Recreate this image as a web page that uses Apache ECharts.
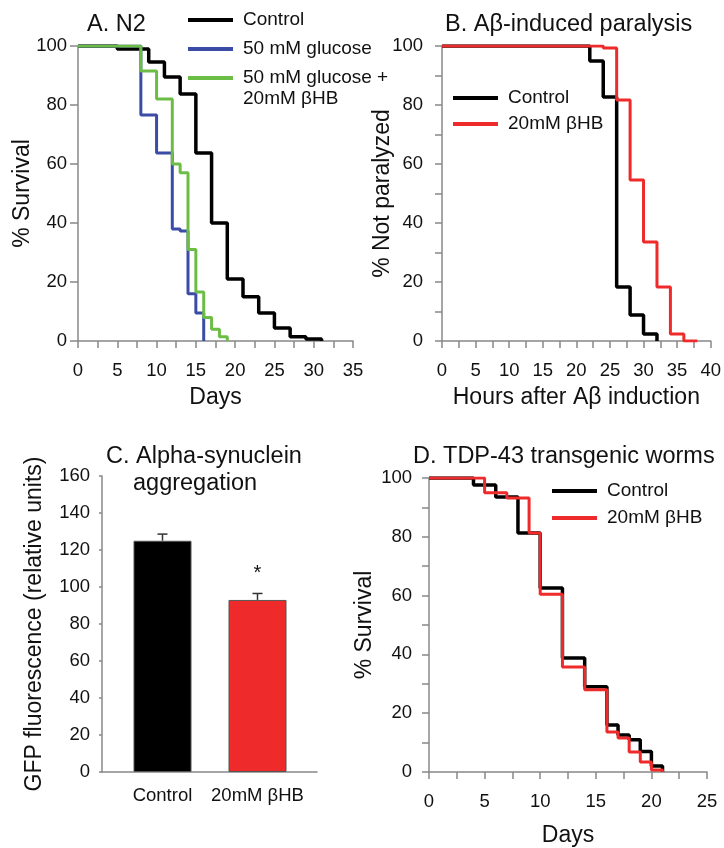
<!DOCTYPE html>
<html>
<head>
<meta charset="utf-8">
<script src="https://cdn.jsdelivr.net/npm/echarts@6/dist/echarts.min.js"></script>
<style>
  html, body { margin: 0; padding: 0; background: #fff; }
  #chart { width: 724px; height: 848px; }
</style>
</head>
<body>
<div id="chart"></div>
<script>
// A. N2 lifespan (days, % survival)
const daysA_control = [0, 5, 9, 11, 13, 15, 17, 19, 21, 23, 25, 27, 29, 31];
const survA_control = [100, 99, 94.6, 89.5, 83.7, 63.7, 40, 21, 15, 9.5, 4.4, 1.4, 0.7, 0];
const daysA_glucose = [0, 8, 10, 12, 13, 14, 15, 16];
const survA_glucose = [100, 76.6, 63.7, 38, 37.3, 16, 9.5, 0];
const daysA_glucoseHB = [0, 8, 10, 12, 13, 14, 15, 16, 17, 18, 19];
const survA_glucoseHB = [100, 91.5, 82, 60, 57, 31, 16.6, 8, 4, 1.4, 0];

// B. Abeta paralysis (hours, % not paralyzed)
const hoursB_control = [0, 22, 24, 26, 28, 30, 32];
const notParB_control = [100, 94.9, 82.7, 18.3, 8.8, 2.4, 0];
const hoursB_hb = [0, 24, 26, 28, 30, 32, 34, 36, 38];
const notParB_hb = [100, 99.3, 81.7, 54.6, 33.6, 18.3, 2.4, 0, 0];

// C. alpha-synuclein aggregation
const barCategories = ['Control', '20mM βHB'];
const barValues = [125, 93];
const barErrors = [3.6, 3.5];
const barSig = ['', '*'];

// D. TDP-43 worms (days, % survival)
const daysD_control = [0, 4, 6, 8, 10, 12, 14, 16, 17, 18, 19, 20, 21];
const survD_control = [100, 97.6, 93.5, 81.3, 62.6, 38.8, 29, 16, 12.6, 11, 7, 2, 0];
const daysD_hb = [0, 5, 7, 9, 10, 12, 14, 16, 17, 18, 19, 20, 21];
const survD_hb = [100, 95, 93.2, 81.3, 60.5, 35.7, 28, 13.6, 11.6, 6.8, 3.4, 0.7, 0];

const FONT = '"Liberation Sans", Arial, sans-serif';
const AXIS_GREY = '#888';
const TXT = '#111';
const TICK_FS = 18.5;
const NAME_FS = 23;
const LEG_FS = 19;
const TITLE_FS = 23.5;

function zip(xs, ys) {
  return xs.map((x, i) => [x, ys[i]]);
}

function stepLine(name, xs, ys, color, idx, width) {
  return {
    name: name,
    type: 'line',
    step: 'end',
    xAxisIndex: idx,
    yAxisIndex: idx,
    symbol: 'none',
    data: zip(xs, ys),
    itemStyle: { color: color },
    lineStyle: { color: color, width: width || 3 },
    animation: false
  };
}

function valueX(gridIndex, max, name, nameGap) {
  return {
    type: 'value', gridIndex: gridIndex, min: 0, max: max, interval: 5,
    name: name, nameLocation: 'middle', nameGap: nameGap, nameMoveOverlap: false,
    nameTextStyle: { fontFamily: FONT, fontSize: NAME_FS, color: TXT },
    axisLine: { onZero: false, lineStyle: { color: AXIS_GREY, width: 1.5 } },
    axisTick: { length: 7, lineStyle: { color: AXIS_GREY, width: 1.5 } },
    minorTick: { show: true, splitNumber: 2, length: 7, lineStyle: { color: AXIS_GREY, width: 1.5 } },
    axisLabel: { fontFamily: FONT, fontSize: TICK_FS, color: TXT, margin: 20 },
    splitLine: { show: false }
  };
}

function valueY(gridIndex, max, interval, name, nameGap, minor, tickLen, labelMargin) {
  return {
    type: 'value', gridIndex: gridIndex, min: 0, max: max, interval: interval,
    name: name, nameLocation: 'middle', nameGap: nameGap, nameMoveOverlap: false,
    nameTextStyle: { fontFamily: FONT, fontSize: NAME_FS, color: TXT },
    axisLine: { show: true, lineStyle: { color: AXIS_GREY, width: 1.5 } },
    axisTick: { show: true, length: tickLen, lineStyle: { color: AXIS_GREY, width: 1.5 } },
    minorTick: { show: minor, splitNumber: 2, length: tickLen, lineStyle: { color: AXIS_GREY, width: 1.5 } },
    axisLabel: { fontFamily: FONT, fontSize: TICK_FS, color: TXT, margin: labelMargin },
    splitLine: { show: false }
  };
}

function legendBox(left, top, names, gap) {
  return {
    left: left, top: top, orient: 'vertical', padding: 0,
    icon: 'rect', itemWidth: 45, itemHeight: 4, itemGap: gap,
    selectedMode: false,
    data: names,
    textStyle: { fontFamily: FONT, fontSize: LEG_FS, color: TXT, lineHeight: 22, padding: [0, 0, 0, 5] }
  };
}

function titleAt(text, left, top) {
  return {
    text: text, left: left, top: top, padding: 0,
    textStyle: { fontFamily: FONT, fontSize: TITLE_FS, fontWeight: 'normal', color: TXT }
  };
}

const chart = echarts.init(document.getElementById('chart'));

chart.setOption({
  backgroundColor: '#fff',
  animation: false,
  title: [
    titleAt('A. N2', 87, 13),
    titleAt('B. Aβ-induced paralysis', 445, 13),
    titleAt('C. Alpha-synuclein', 106, 445),
    titleAt('aggregation', 133, 472),
    titleAt('D. TDP-43 transgenic worms', 413, 445)
  ],
  legend: [
    legendBox(188, 9, ['Control', '50 mM glucose', '50 mM glucose +'], 7),
    legendBox(453, 87, ['Control', '20mM βHB'], 4),
    legendBox(552, 480, ['Control', '20mM βHB'], 5)
  ],
  graphic: [
    {
      type: 'text', left: 243, top: 89,
      style: { text: '20mM βHB', fontFamily: FONT, fontSize: LEG_FS, fill: TXT }
    }
  ],
  grid: [
    { left: 78, top: 46, width: 275, height: 295 },
    { left: 442, top: 46, width: 270, height: 295 },
    { left: 102, top: 476, width: 215, height: 296 },
    { left: 115, top: 476, width: 190, height: 296 },
    { left: 429, top: 478, width: 278, height: 294 }
  ],
  xAxis: [
    valueX(0, 35, 'Days', 45),
    valueX(1, 40, 'Hours after Aβ induction', 45),
    {
      type: 'value', gridIndex: 2, min: 0, max: 1,
      axisLine: { onZero: false, lineStyle: { color: AXIS_GREY, width: 1.5 } },
      axisTick: { show: false }, axisLabel: { show: false }, splitLine: { show: false }
    },
    {
      type: 'category', gridIndex: 3, data: barCategories,
      axisLine: { show: false }, axisTick: { show: false },
      axisLabel: { interval: 0, fontFamily: FONT, fontSize: TICK_FS, color: TXT, margin: 14 }
    },
    valueX(4, 25, 'Days', 52)
  ],
  yAxis: [
    valueY(0, 100, 20, '% Survival', 44, false, 8, 11),
    valueY(1, 100, 20, '% Not paralyzed', 48, true, 7, 19),
    valueY(2, 160, 20, 'GFP fluorescence (relative units)', 56, false, 3, 12),
    { type: 'value', gridIndex: 3, min: 0, max: 160, show: false },
    valueY(4, 100, 20, '% Survival', 53, true, 7, 17)
  ],
  series: [
    stepLine('Control', daysA_control, survA_control, '#000', 0, 3.5),
    stepLine('50 mM glucose', daysA_glucose, survA_glucose, '#3a4ca6', 0, 3),
    stepLine('50 mM glucose +', daysA_glucoseHB, survA_glucoseHB, '#6cbd45', 0, 3),

    stepLine('Control', hoursB_control, notParB_control, '#000', 1, 3.5),
    stepLine('20mM βHB', hoursB_hb, notParB_hb, '#ee2a2a', 1, 3),

    {
      name: 'GFP', type: 'bar', xAxisIndex: 3, yAxisIndex: 3,
      barWidth: 58,
      data: barValues.map((v, i) => ({
        value: v,
        itemStyle: { color: i === 0 ? '#000' : '#ee2a2a', borderColor: '#555', borderWidth: 1 }
      })),
      animation: false
    },
    {
      name: 'error', type: 'custom', xAxisIndex: 3, yAxisIndex: 3,
      data: barValues.map((v, i) => [i, v, v + barErrors[i]]),
      renderItem: function (params, api) {
        const base = api.coord([api.value(0), api.value(1)]);
        const top = api.coord([api.value(0), api.value(2)]);
        const st = { stroke: '#333', lineWidth: 1.5 };
        const kids = [
          { type: 'line', shape: { x1: base[0], y1: base[1], x2: top[0], y2: top[1] }, style: st },
          { type: 'line', shape: { x1: top[0] - 5, y1: top[1], x2: top[0] + 5, y2: top[1] }, style: st }
        ];
        const mark = barSig[params.dataIndex];
        if (mark) {
          kids.push({
            type: 'text',
            style: { text: mark, x: top[0], y: top[1] - 10, align: 'center', verticalAlign: 'bottom',
                     fontFamily: FONT, fontSize: 20, fill: TXT }
          });
        }
        return { type: 'group', children: kids };
      },
      animation: false
    },

    stepLine('Control', daysD_control, survD_control, '#000', 4, 3.5),
    stepLine('20mM βHB', daysD_hb, survD_hb, '#ee2a2a', 4, 3)
  ]
});
</script>
</body>
</html>
